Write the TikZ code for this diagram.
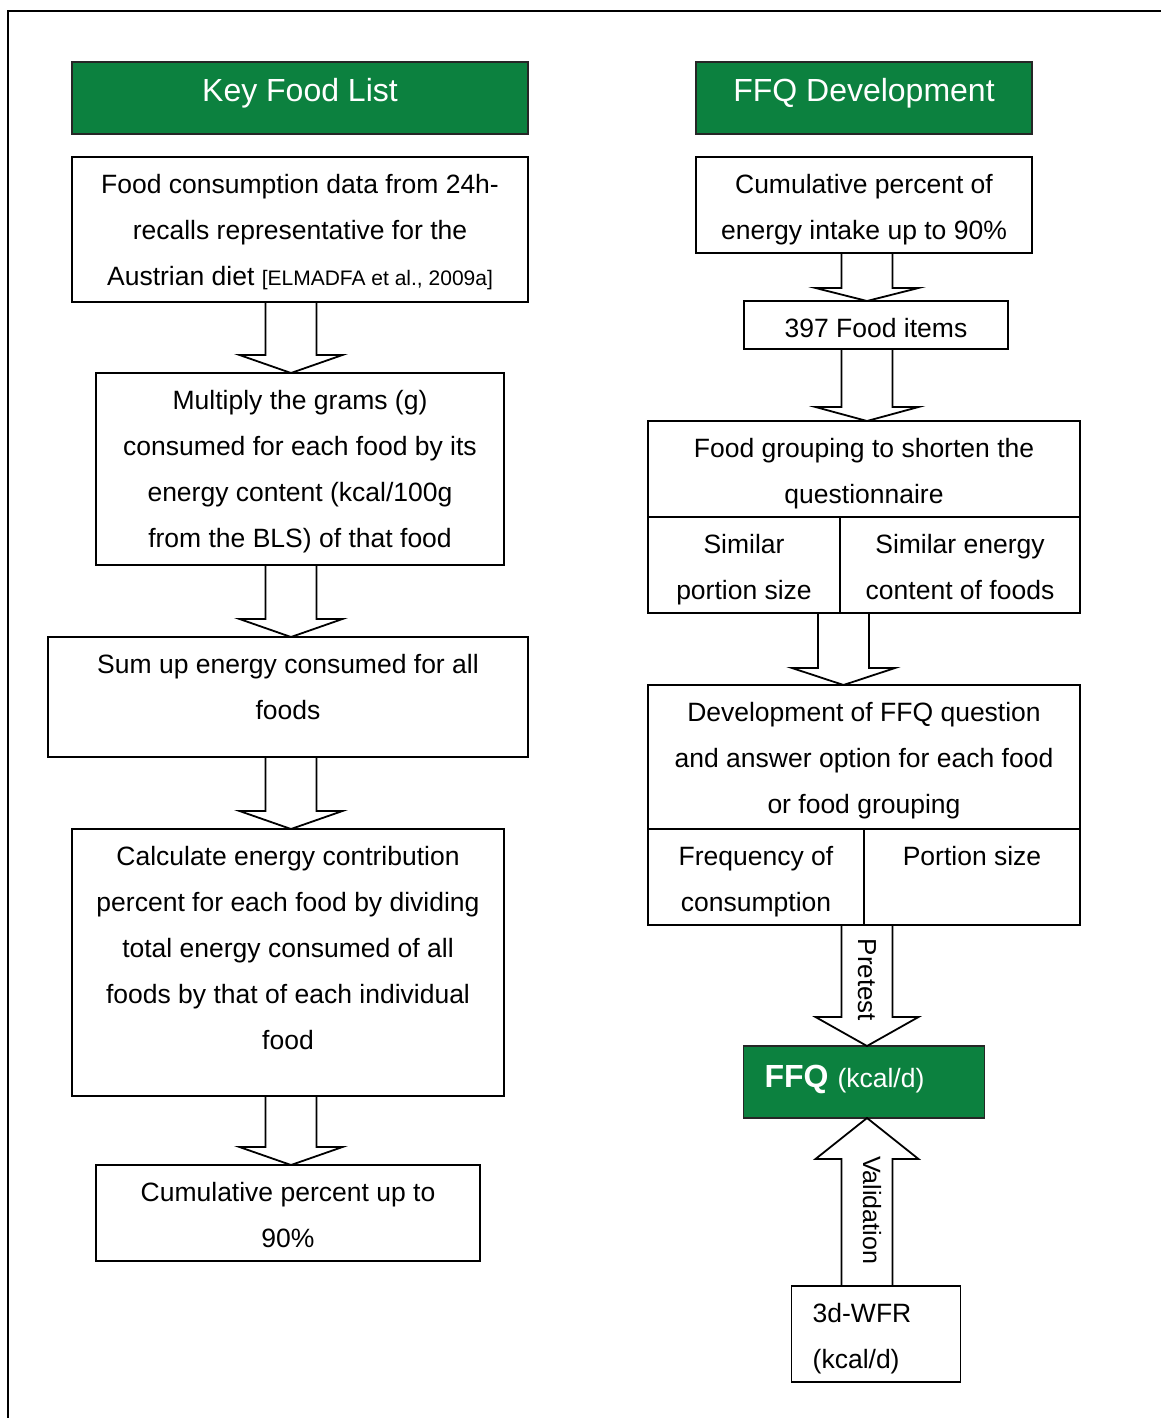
\documentclass[tikz,border=0pt]{standalone}
\usepackage{fontspec}
\setmainfont{Liberation Sans}
\usetikzlibrary{positioning,calc}

\definecolor{keygreen}{RGB}{12,129,63}
\newcommand{\bodyfont}{\fontsize{26.5pt}{46pt}\selectfont}
\newcommand{\headfont}{\fontsize{32pt}{40pt}\selectfont}
\newcommand{\stacked}[1]{\begin{tabular}[t]{@{}c@{}}#1\end{tabular}}
\newcommand{\leftstacked}[1]{\begin{tabular}[t]{@{}l@{}}#1\end{tabular}}

% block arrows: axis, from, to, head length
\newcommand{\arrowdown}[4]{%
  \draw[blockarrow] let \p1=(#1 |- #2), \p2=(#1 |- #3) in
    (\x1-25.5pt,\y1) -- (\x1-25.5pt,\y2+#4) -- (\x1-51.5pt,\y2+#4) -- (\x2,\y2)
    -- (\x1+51.5pt,\y2+#4) -- (\x1+25.5pt,\y2+#4) -- (\x1+25.5pt,\y1);}
\newcommand{\arrowup}[4]{%
  \draw[blockarrow] let \p1=(#1 |- #2), \p2=(#1 |- #3) in
    (\x1-25.5pt,\y1) -- (\x1-25.5pt,\y2-#4) -- (\x1-51.5pt,\y2-#4) -- (\x2,\y2)
    -- (\x1+51.5pt,\y2-#4) -- (\x1+25.5pt,\y2-#4) -- (\x1+25.5pt,\y1);}

\tikzset{
  stepbox/.style={draw, line width=1.8pt, inner sep=0pt, outer sep=0pt, anchor=north, text height=36pt, font=\bodyfont},
  headbox/.style={draw=black!85, line width=1.8pt, fill=keygreen, text=white, inner sep=0pt, outer sep=0pt, anchor=north, text height=40pt, text depth=32pt, font=\headfont},
  blockarrow/.style={draw, line width=1.8pt, line join=miter},
  sidelabel/.style={rotate=-90, inner sep=0pt}
}

\begin{document}
\begin{tikzpicture}[x=1pt, y=-1pt]
\useasboundingbox (0,0) rectangle (1161,1418);
\clip (0,0) rectangle (1161,1418);
\draw[line width=2.5pt] (8,11) rectangle (1200,1460);

% Key Food List
\node (kh) [headbox, minimum width=456pt] at (300,62) {Key Food List};
\node (k1) [stepbox, minimum width=456pt, text depth=109pt, below=23pt of kh]
  {\stacked{Food consumption data from 24h-\\recalls representative for the\\Austrian diet {\fontsize{21pt}{46pt}\selectfont[ELMADFA et al., 2009a]}}};
\node (k2) [stepbox, minimum width=408pt, text depth=156pt, below=71pt of k1]
  {\stacked{Multiply the grams (g)\\consumed for each food by its\\energy content (kcal/100g\\from the BLS) of that food}};
\node (k3) [stepbox, minimum width=480pt, text depth=84pt, below=72pt of k2, xshift=-12pt]
  {\stacked{Sum up energy consumed for all\\foods}};
\node (k4) [stepbox, minimum width=432pt, text depth=231pt, below=72pt of k3]
  {\stacked{Calculate energy contribution\\percent for each food by dividing\\total energy consumed of all\\foods by that of each individual\\food}};
\node (k5) [stepbox, minimum width=384pt, text depth=60pt, below=69pt of k4]
  {\stacked{Cumulative percent up to\\90\%}};

% FFQ Development
\node (fh) [headbox, minimum width=336pt] at (864,62) {FFQ Development};
\node (f1) [stepbox, minimum width=336pt, text depth=60pt, below=23pt of fh]
  {\stacked{Cumulative percent of\\energy intake up to 90\%}};
\node (f2) [stepbox, minimum width=264pt, text depth=12pt, below=48pt of f1, xshift=12pt]
  {397 Food items};
\node (f3) [stepbox, minimum width=432pt, text depth=60pt, below=72pt of f2, xshift=-12pt]
  {\stacked{Food grouping to shorten the\\questionnaire}};
\node (fs1) [stepbox, minimum width=192pt, text depth=60pt, anchor=north west] at (f3.south west)
  {\stacked{Similar\\portion size}};
\node (fs2) [stepbox, minimum width=240pt, text depth=60pt, anchor=north east] at (f3.south east)
  {\stacked{Similar energy\\content of foods}};
\node (f4) [stepbox, minimum width=432pt, text depth=108pt, below=168pt of f3]
  {\stacked{Development of FFQ question\\and answer option for each food\\or food grouping}};
\node (ft1) [stepbox, minimum width=216pt, text depth=60pt, anchor=north west] at (f4.south west)
  {\stacked{Frequency of\\consumption}};
\node (ft2) [stepbox, minimum width=216pt, text depth=60pt, anchor=north east] at (f4.south east)
  {Portion size};
\node (ffq) [headbox, minimum width=241pt, text height=41pt, text depth=31pt, below=217pt of f4]
  {\textbf{FFQ} {\bodyfont(kcal/d)}\hspace{39pt}\mbox{}};
\node (wfr) [stepbox, minimum width=169pt, text depth=60pt, below=168pt of ffq, xshift=12pt]
  {\leftstacked{3d-WFR\\(kcal/d)}\hspace{28pt}\mbox{}};

% arrows
\coordinate (la) at (291,0);
\coordinate (ra) at (867,0);
\coordinate (rb) at (843.5,0);
\arrowdown{la}{k1.south}{k2.north}{18pt}
\arrowdown{la}{k2.south}{k3.north}{18pt}
\arrowdown{la}{k3.south}{k4.north}{18pt}
\arrowdown{la}{k4.south}{k5.north}{18pt}
\arrowdown{ra}{f1.south}{f2.north}{13pt}
\arrowdown{ra}{f2.south}{f3.north}{14pt}
\arrowdown{rb}{fs1.south}{f4.north}{17pt}
\arrowdown{ra}{ft1.south}{ffq.north}{29pt}
\arrowup{ra}{wfr.north}{ffq.south}{41pt}

\node (pt) [sidelabel, font=\fontsize{26pt}{30pt}\selectfont] at (867,980) {Pretest};
\node (vl) [sidelabel, font=\fontsize{25pt}{30pt}\selectfont] at (872,1210) {Validation};
\end{tikzpicture}
\end{document}
